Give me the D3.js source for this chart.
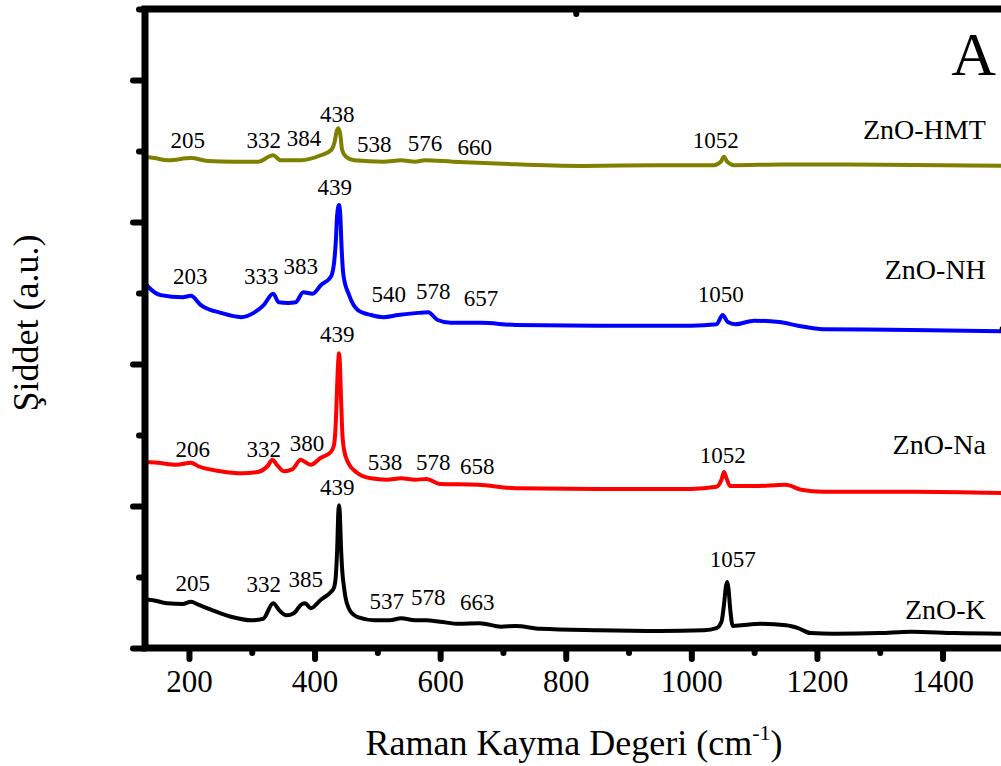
<!DOCTYPE html>
<html>
<head>
<meta charset="utf-8">
<script src="https://cdn.jsdelivr.net/npm/d3@7/dist/d3.min.js"></script>
<style>
body { margin: 0; background: #fff; }
svg { display: block; }
</style>
</head>
<body>
<div id="chart"></div>
<script>
// Raman spectra, ZnO samples (stacked, arbitrary units)

var waveK = [130, 136, 165, 190, 203, 215, 235, 267, 300, 318, 334, 345, 355, 367, 380, 385, 394, 410, 426, 431, 434, 436, 438, 439, 440, 442, 444, 447, 450, 455, 462, 470, 495, 520, 538, 560, 578, 600, 630, 663, 697, 720, 760, 850, 950, 1020, 1040, 1048, 1052, 1055, 1057, 1059, 1062, 1066, 1080, 1110, 1151, 1170, 1190, 1227, 1300, 1350, 1420, 1510];
var valK = [0.68, 0.68, 0.63, 0.62, 0.65, 0.61, 0.54, 0.44, 0.39, 0.41, 0.63, 0.52, 0.46, 0.49, 0.62, 0.63, 0.56, 0.68, 0.79, 0.85, 1.03, 1.38, 1.94, 2.01, 1.94, 1.45, 1.10, 0.85, 0.68, 0.55, 0.47, 0.43, 0.39, 0.39, 0.42, 0.39, 0.39, 0.37, 0.34, 0.35, 0.30, 0.31, 0.27, 0.25, 0.24, 0.25, 0.28, 0.37, 0.61, 0.86, 0.93, 0.85, 0.54, 0.31, 0.32, 0.34, 0.32, 0.28, 0.21, 0.20, 0.21, 0.23, 0.21, 0.20];

var waveNa = [130, 150, 180, 203, 215, 250, 285, 310, 325, 333, 340, 351, 365, 378, 385, 394, 410, 426, 431, 434, 436, 438, 439, 440, 442, 444, 447, 453, 466, 490, 515, 538, 560, 578, 600, 660, 720, 850, 1000, 1040, 1048, 1052, 1056, 1062, 1100, 1150, 1175, 1210, 1350, 1510];
var valNa = [2.62, 2.61, 2.58, 2.61, 2.56, 2.49, 2.46, 2.48, 2.56, 2.65, 2.58, 2.49, 2.52, 2.65, 2.62, 2.58, 2.68, 2.76, 2.86, 3.21, 3.70, 4.08, 4.15, 4.08, 3.56, 3.07, 2.79, 2.62, 2.48, 2.39, 2.37, 2.39, 2.37, 2.38, 2.31, 2.30, 2.25, 2.24, 2.24, 2.27, 2.37, 2.48, 2.39, 2.28, 2.28, 2.30, 2.23, 2.20, 2.20, 2.18];

var waveNH = [130, 137, 155, 190, 203, 219, 251, 283, 303, 319, 334, 343, 358, 370, 382, 397, 410, 426, 431, 434, 436, 439, 441, 443, 446, 455, 469, 490, 510, 533, 565, 581, 596, 617, 665, 720, 850, 1000, 1040, 1050, 1058, 1070, 1100, 1140, 1170, 1210, 1350, 1510];
var valNH = [5.14, 5.07, 4.97, 4.94, 4.96, 4.83, 4.72, 4.66, 4.72, 4.83, 4.99, 4.87, 4.86, 4.87, 5.01, 4.99, 5.11, 5.23, 5.42, 5.75, 6.10, 6.24, 6.10, 5.65, 5.25, 4.97, 4.76, 4.69, 4.66, 4.69, 4.72, 4.73, 4.62, 4.58, 4.58, 4.55, 4.54, 4.54, 4.56, 4.69, 4.59, 4.56, 4.61, 4.59, 4.54, 4.49, 4.48, 4.46];

var waveHMT = [130, 145, 167, 203, 230, 272, 310, 334, 346, 378, 410, 426, 432, 435, 438, 441, 444, 450, 463, 510, 538, 560, 576, 620, 700, 824, 950, 1036, 1047, 1052, 1057, 1068, 1143, 1250, 1400, 1510];
var valHMT = [6.92, 6.90, 6.87, 6.90, 6.86, 6.85, 6.85, 6.94, 6.87, 6.87, 6.94, 7.01, 7.13, 7.27, 7.32, 7.23, 7.01, 6.92, 6.87, 6.85, 6.87, 6.85, 6.87, 6.85, 6.82, 6.79, 6.80, 6.80, 6.85, 6.92, 6.85, 6.80, 6.81, 6.81, 6.80, 6.79];

var seriesNames = ["ZnO-HMT", "ZnO-NH", "ZnO-Na", "ZnO-K"];
var seriesColours = ["#808000", "#0000ff", "#ff0000", "#000000"];
// anchor of each series name (right aligned), in data units
var nameWave = [1469, 1469, 1469, 1469];
var nameVal = [7.17, 5.20, 2.73, 0.41];

// peak labels: text, wavenumber of label centre, intensity of label baseline
var peakTextHMT = ["205", "332", "384", "438", "538", "576", "660", "1052"];
var peakWaveHMT = [198, 319, 383, 436, 495, 576, 655, 1039];
var peakValHMT = [7.04, 7.04, 7.07, 7.41, 6.99, 7.00, 6.94, 7.04];

var peakTextNH = ["203", "333", "383", "439", "540", "578", "657", "1050"];
var peakWaveNH = [202, 315, 378, 432, 518, 589, 665, 1047];
var peakValNH = [5.13, 5.13, 5.27, 6.38, 4.87, 4.92, 4.82, 4.87];

var peakTextNa = ["206", "332", "380", "439", "538", "578", "658", "1052"];
var peakWaveNa = [206, 319, 388, 436, 512, 589, 659, 1050];
var peakValNa = [2.69, 2.69, 2.77, 4.31, 2.51, 2.51, 2.45, 2.61];

var peakTextK = ["205", "332", "385", "439", "537", "578", "663", "1057"];
var peakWaveK = [206, 319, 386, 436, 515, 581, 659, 1066];
var peakValK = [0.80, 0.79, 0.86, 2.15, 0.55, 0.61, 0.54, 1.14];

var xMajorTicks = [200, 400, 600, 800, 1000, 1200, 1400];
var xMinorTicks = [300, 500, 700, 900, 1100, 1300, 1500];
var yMajorTicks = [0, 2, 4, 6, 8];
var yMinorTicks = [1, 3, 5, 7, 9];
var topTicks = [816];
var rightTicks = [4.5];

var svgWidth = 1001, svgHeight = 766;
var fontFamily = "'Liberation Serif', 'Times New Roman', serif";
var axisWidth = 7;

var x = d3.scaleLinear().domain([130, 1510]).range([145, 1011.6]);
var y = d3.scaleLinear().domain([0, 9]).range([648, 9]);

var svg = d3.select("#chart").append("svg")
    .attr("width", svgWidth)
    .attr("height", svgHeight)
    .attr("viewBox", "0 0 " + svgWidth + " " + svgHeight);

svg.append("defs").append("clipPath").attr("id", "plotClip")
    .append("rect")
    .attr("x", x.range()[0]).attr("y", y.range()[1])
    .attr("width", x.range()[1] - x.range()[0])
    .attr("height", y.range()[0] - y.range()[1]);

//spectra
var waves = [waveHMT, waveNH, waveNa, waveK];
var vals = [valHMT, valNH, valNa, valK];
var line = d3.line()
    .x(function(d) { return x(d[0]); })
    .y(function(d) { return y(d[1]); })
    .curve(d3.curveMonotoneX);

var plotArea = svg.append("g").attr("clip-path", "url(#plotClip)");
for (var i = 0; i < waves.length; i++) {
    var pts = waves[i].map(function(w, j) { return [w, vals[i][j]]; });
    plotArea.append("path")
        .datum(pts)
        .attr("d", line)
        .attr("fill", "none")
        .attr("stroke", seriesColours[i])
        .attr("stroke-width", 4)
        .attr("stroke-linejoin", "round");
}

//peak labels
var peakTexts = [peakTextHMT, peakTextNH, peakTextNa, peakTextK];
var peakWaves = [peakWaveHMT, peakWaveNH, peakWaveNa, peakWaveK];
var peakVals = [peakValHMT, peakValNH, peakValNa, peakValK];
var labels = svg.append("g");
for (var i = 0; i < peakTexts.length; i++) {
    for (var j = 0; j < peakTexts[i].length; j++) {
        labels.append("text")
            .text(peakTexts[i][j])
            .attr("x", x(peakWaves[i][j]))
            .attr("y", y(peakVals[i][j]))
            .attr("text-anchor", "middle")
            .attr("font-family", fontFamily)
            .attr("font-size", 23)
            .attr("fill", "black");
    }
    labels.append("text")
        .text(seriesNames[i])
        .attr("x", x(nameWave[i]))
        .attr("y", y(nameVal[i]))
        .attr("text-anchor", "end")
        .attr("font-family", fontFamily)
        .attr("font-size", 28)
        .attr("fill", "black");
}

// panel letter
svg.append("text")
    .text("A")
    .attr("x", 996)
    .attr("y", 75)
    .attr("text-anchor", "end")
    .attr("font-family", fontFamily)
    .attr("font-size", 62)
    .attr("fill", "black");

//axes
function styleTicks(g, width) {
    g.select(".domain").remove();
    g.selectAll(".tick line")
        .attr("stroke", "black")
        .attr("stroke-width", width)
        .attr("stroke-linecap", "round");
}

var xAxisMajor = svg.append("g")
    .attr("transform", "translate(0," + y(0) + ")")
    .call(d3.axisBottom(x).tickValues(xMajorTicks).tickSize(11).tickFormat(d3.format("d")));
styleTicks(xAxisMajor, 6);
xAxisMajor.selectAll("text")
    .attr("y", 44)
    .attr("dy", null)
    .attr("font-family", fontFamily)
    .attr("font-size", 31)
    .attr("fill", "black");

var xAxisMinor = svg.append("g")
    .attr("transform", "translate(0," + y(0) + ")")
    .call(d3.axisBottom(x).tickValues(xMinorTicks).tickSize(5).tickFormat(""));
styleTicks(xAxisMinor, 6);

var yAxisMajor = svg.append("g")
    .attr("transform", "translate(" + x(130) + ",0)")
    .call(d3.axisLeft(y).tickValues(yMajorTicks).tickSize(12).tickFormat(""));
styleTicks(yAxisMajor, 6);

var yAxisMinor = svg.append("g")
    .attr("transform", "translate(" + x(130) + ",0)")
    .call(d3.axisLeft(y).tickValues(yMinorTicks).tickSize(6).tickFormat(""));
styleTicks(yAxisMinor, 6);

var topAxis = svg.append("g")
    .attr("transform", "translate(0," + y(9) + ")")
    .call(d3.axisBottom(x).tickValues(topTicks).tickSize(5).tickFormat(""));
styleTicks(topAxis, 6);

var rightAxis = svg.append("g")
    .attr("transform", "translate(" + x(1510) + ",0)")
    .call(d3.axisLeft(y).tickValues(rightTicks).tickSize(9).tickFormat(""));
styleTicks(rightAxis, 6);

// frame
svg.append("rect")
    .attr("x", x(130))
    .attr("y", y(9))
    .attr("width", x(1510) - x(130))
    .attr("height", y(0) - y(9))
    .attr("fill", "none")
    .attr("stroke", "black")
    .attr("stroke-width", axisWidth);

// axis titles
var xTitle = svg.append("text")
    .attr("x", 574)
    .attr("y", 755)
    .attr("text-anchor", "middle")
    .attr("font-family", fontFamily)
    .attr("font-size", 36)
    .attr("fill", "black");
xTitle.append("tspan").text("Raman Kayma Degeri (cm");
xTitle.append("tspan").text("-1").attr("font-size", 22).attr("dy", -15);
xTitle.append("tspan").text(")").attr("dy", 15);

svg.append("text")
    .text("Şiddet (a.u.)")
    .attr("transform", "translate(38,323) rotate(-90)")
    .attr("text-anchor", "middle")
    .attr("font-family", fontFamily)
    .attr("font-size", 36)
    .attr("fill", "black");
</script>
</body>
</html>
